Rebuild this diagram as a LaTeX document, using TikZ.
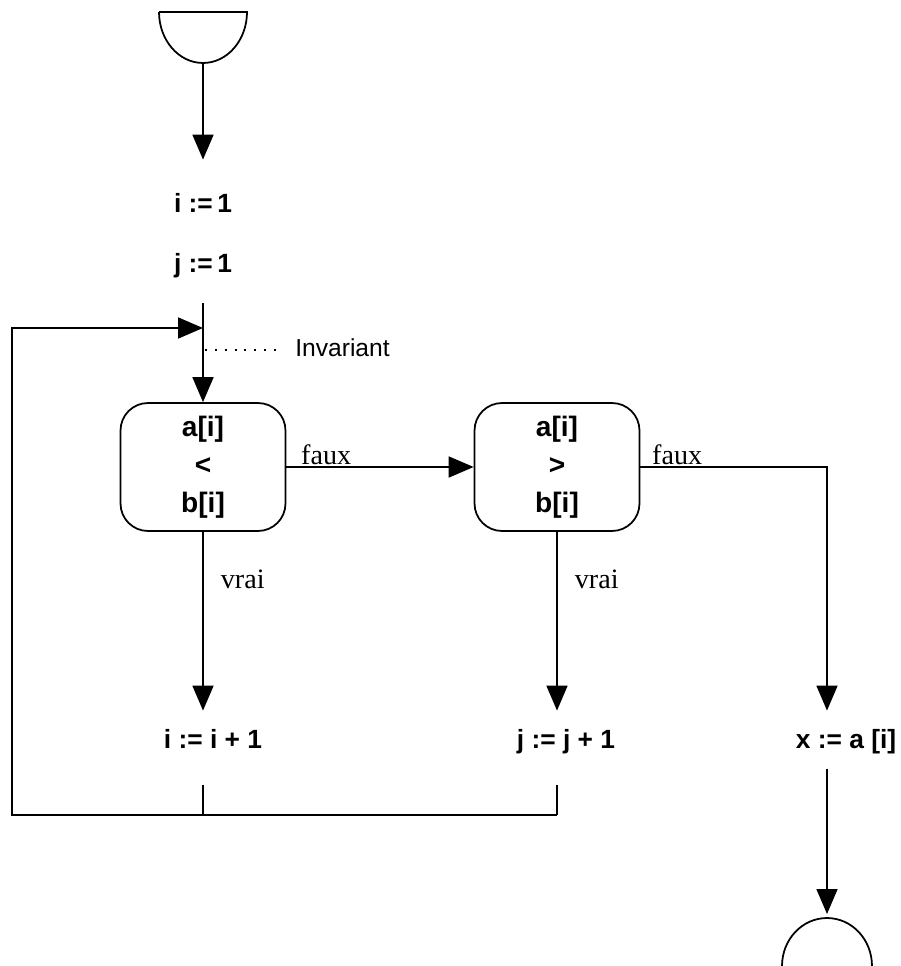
\documentclass[tikz,border=0pt]{standalone}
\usepackage{fontspec}
\setmainfont{Liberation Serif}
\setsansfont{Liberation Sans}
\usetikzlibrary{arrows.meta, positioning, shapes.geometric}
\tikzset{
    test node/.style={rectangle, draw=black, line width=1pt, rounded corners=0.55cm, minimum width=3.3cm, minimum height=2.56cm, align=center, font=\sffamily\bfseries\fontsize{16}{21.5}\selectfont},
    assign node/.style={inner sep=0pt, text height=10pt, text depth=3pt, anchor=base, font=\sffamily\bfseries\fontsize{15}{17}\selectfont},
    note node/.style={inner sep=0pt, anchor=west, font=\sffamily\fontsize{14}{16}\selectfont},
    branch label/.style={inner sep=0pt, anchor=base west, font=\fontsize{16}{18}\selectfont},
    flow arrow/.style={-{Triangle[length=0.5cm, width=0.42cm]}, line width=1pt, black},
    flow line/.style={line width=1pt, black},
}

\begin{document}
\begin{tikzpicture}[x=0.02cm, y=-0.02cm]
    \useasboundingbox (0,0) rectangle (901,966);

    % debut et fin
    \draw[flow line] (159,12) -- (247,12) arc[start angle=0, end angle=-180, x radius=0.88cm, y radius=1.02cm] -- cycle;
    \draw[flow line] (782,966) arc[start angle=180, end angle=0, x radius=0.9cm, y radius=0.96cm];
    \coordinate (start) at (203,63);
    \coordinate (stop) at (827,914);

    % instructions et tests
    \node[assign node] (iinit) at (203,213) {i :=\,1};
    \node[assign node] (jinit) at (203,272) {j :=\,1};
    \node[test node] (test1) at (203,467) {a[i]\\<\\b[i]};
    \node[test node] (test2) at (557,467) {a[i]\\>\\b[i]};
    \node[assign node] (incri) at (213,748) {i := i + 1};
    \node[assign node] (incrj) at (566,748) {j := j + 1};
    \node[assign node] (xset) at (846,748) {x := a [i]};
    \node[note node] (inv) at (295,348) {Invariant};

    \coordinate (join) at (203,328);
    \coordinate (corner) at (827,467);
    \coordinate (bottomi) at (203,815);
    \coordinate (bottomj) at (557,815);
    \coordinate (bottomleft) at (12,815);
    \coordinate (topleft) at (12,328);
    \coordinate (invstart) at (205,350);

    \draw[flow arrow, shorten >=0.71cm] (start) -- (start |- iinit.north);
    \draw[flow arrow, shorten <=0.51cm] (jinit) -- (test1);
    \draw[line width=1.2pt, dash pattern=on 1.2pt off 4.4pt, shorten >=0.24cm] (invstart) -- (invstart -| inv.west);

    \draw[flow arrow] (test1) -- node[branch label, pos=0, xshift=0.28cm, yshift=0.06cm] {faux} (test2);
    \draw[flow arrow, shorten >=0.39cm] (test2) -- node[branch label, pos=0, xshift=0.22cm, yshift=0.06cm] {faux} (corner) -- (corner |- xset.north);
    \draw[flow arrow, shorten >=0.39cm] (test1) -- node[branch label, pos=0, xshift=0.34cm, yshift=-1.14cm] {vrai} (test1 |- incri.north);
    \draw[flow arrow, shorten >=0.39cm] (test2) -- node[branch label, pos=0, xshift=0.34cm, yshift=-1.14cm] {vrai} (test2 |- incrj.north);

    % retour de boucle
    \draw[flow line, shorten <=0.63cm] (bottomi |- incri.south) -- (bottomi);
    \draw[flow line, shorten <=0.63cm] (bottomj |- incrj.south) -- (bottomj);
    \draw[flow arrow] (bottomj) -- (bottomleft) -- (topleft) -- (join);

    \draw[flow arrow, shorten <=0.3cm] (stop |- xset.south) -- (stop);
\end{tikzpicture}
\end{document}
